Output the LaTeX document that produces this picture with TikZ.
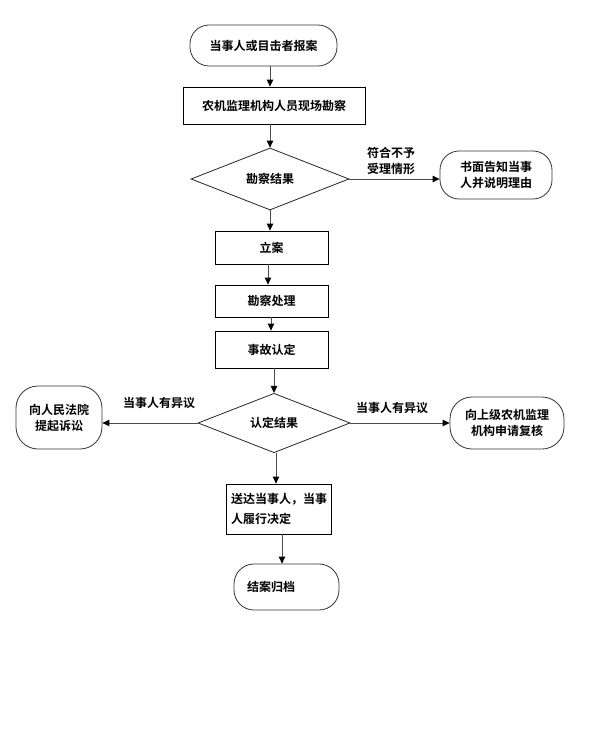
\documentclass[tikz,border=0pt]{standalone}
\usepackage{fontspec}
\setmainfont{Noto Sans CJK SC}[BoldFont={Noto Sans CJK SC Bold}]
\usetikzlibrary{shapes.geometric,arrows.meta,calc}
\begin{document}
\begin{tikzpicture}[x=1pt,y=-1pt,
  every node/.style={font=\fontsize{12}{16}\selectfont\bfseries, inner sep=0pt},
  box/.style={draw=black, line width=0.8pt, rectangle, align=center},
  term/.style={draw=black!80, line width=0.8pt, rectangle, rounded corners=19pt, align=center},
  dia/.style={draw=black!85, line width=0.8pt, diamond, inner sep=0pt},
  arr/.style={draw=black!70, line width=1pt, -{Triangle[length=7pt,width=6.5pt,color=black]}},
  lab/.style={align=center}
]
\useasboundingbox (0,0) rectangle (591,746);
\fill[white] (0,0) rectangle (591,746);

\node[term, minimum width=147, minimum height=41] (start) at (263.5,45.5) {当事人或目击者报案};
\node[box, minimum width=182, minimum height=37] (survey) at (274,105.5) {农机监理机构人员现场勘察};
\node[dia, minimum width=158, minimum height=62] (d1) at (270,179) {勘察结果};
\node[term, minimum width=112, minimum height=48] (notify) at (496,175) {书面告知当事\\人并说明理由};
\node[lab] (l1) at (391,161) {符合不予\\受理情形};
\node[box, minimum width=113, minimum height=33] (file) at (271.5,247.5) {立案};
\node[box, minimum width=113, minimum height=32] (handle) at (271.5,301) {勘察处理};
\node[box, minimum width=113, minimum height=37] (ident) at (271.5,349.5) {事故认定};
\node[dia, minimum width=152, minimum height=52] (d2) at (274,423) {认定结果};
\node[term, minimum width=86, minimum height=63, rounded corners=22pt] (court) at (59,417.5) {向人民法院\\提起诉讼};
\node[term, minimum width=114, minimum height=52, rounded corners=22pt] (review) at (507,423) {向上级农机监理\\机构申请复核};
\node[lab] (l2) at (159,403) {当事人有异议};
\node[lab] (l3) at (392,408) {当事人有异议};
\node[box, minimum width=105, minimum height=50, align=left, text width=95pt,
      font=\fontsize{12}{20}\selectfont\bfseries] (deliver) at (278.5,509) {送达当事人，当事\\人履行决定};
\node[term, minimum width=105, minimum height=46, rounded corners=20pt] (close) at (286.5,587) {};
\node[anchor=west] (closet) at (247,587) {结案归档};

\draw[arr] (start.south -| d1.north) -- (survey.north -| d1.north);
\draw[arr] (survey.south -| d1.north) -- (d1.north);
\draw[arr] (d1.east) -- (d1.east -| notify.west);
\draw[arr] (d1.south) -- (file.north -| d1.south);
\draw[arr] ([xshift=-3.5pt]file.south) -- ([xshift=-3.5pt]handle.north);
\draw[arr] ([xshift=-0.5pt]handle.south) -- ([xshift=-0.5pt]ident.north);
\draw[arr] (ident.south -| d2.north) -- (d2.north);
\draw[arr] (d2.west) -- (d2.west -| court.east);
\draw[arr] (d2.east) -- (d2.east -| review.west);
\draw[arr] ([xshift=2pt]d2.south) -- ([xshift=-2.5pt]deliver.north);
\draw[arr] ([xshift=3.5pt]deliver.south) -- ([xshift=-4.5pt]close.north);
\end{tikzpicture}
\end{document}
